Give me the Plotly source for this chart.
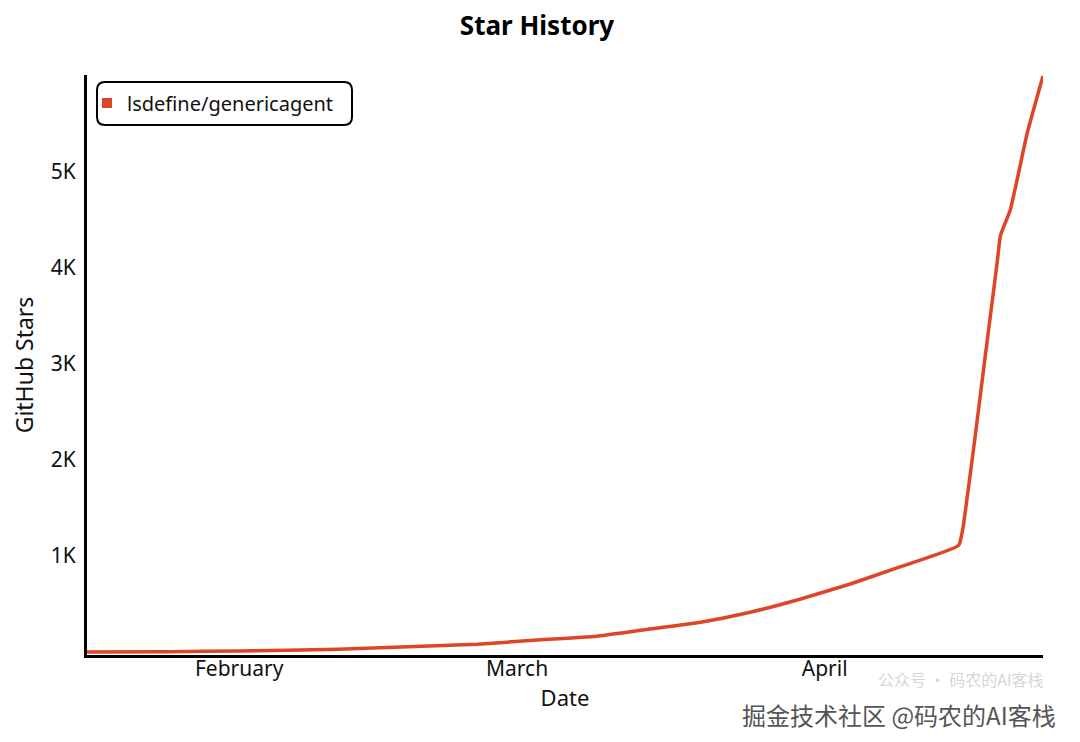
import plotly.graph_objects as go

# ---- data ----
series_name = "lsdefine/genericagent"
dates = [
    "2026-01-16 16:00", "2026-01-25 00:00", "2026-02-01 00:00", "2026-02-11 00:00",
    "2026-02-18 00:00", "2026-02-25 00:00", "2026-03-03 00:00", "2026-03-09 00:00",
    "2026-03-14 00:00", "2026-03-19 12:00", "2026-03-24 12:00", "2026-03-29 12:00",
    "2026-04-03 12:00", "2026-04-08 12:00", "2026-04-14 12:00", "2026-04-14 22:00",
    "2026-04-16 00:00", "2026-04-17 05:00", "2026-04-18 10:00", "2026-04-18 17:00",
    "2026-04-19 17:00", "2026-04-21 10:00", "2026-04-23 00:00",
]
stars = [
    0, 5, 12, 30,
    55, 83, 125, 166,
    235, 311, 415, 550,
    706, 883, 1110, 1280,
    2110, 3100, 4080, 4330,
    4600, 5400, 5990,
]
month_ticks = ["2026-02-01", "2026-03-01", "2026-04-01"]
month_labels = ["February", "March", "April"]
star_ticks = [1000, 2000, 3000, 4000, 5000]
star_labels = ["1K", "2K", "3K", "4K", "5K"]

line_color = "#dd4528"
font_family = "Noto Sans"

# the page body offsets the figure by 8px; target pixel positions are in window coords
OFF = 8
FIG_W, FIG_H = 1080, 742
PL, PR, PT, PB = 87, 1043, 75, 655  # plot area in window pixels
W, H = float(PR - PL), float(PB - PT)

def px_x(x):
    return (x - PL) / W

def px_y(y):
    return (PB - y) / H

fig = go.Figure()
fig.add_trace(go.Scatter(
    x=dates, y=stars, mode="lines",
    line=dict(color=line_color, width=3.5, shape="spline", smoothing=0.4),
    showlegend=False, hoverinfo="x+y",
))
# legend entry (square marker)
fig.add_trace(go.Scatter(
    x=[None], y=[None], mode="markers", name=series_name,
    marker=dict(symbol="square", size=10, color=line_color),
))

# rounded legend box
x0, x1 = px_x(97), px_x(352)
y1, y0 = px_y(82), px_y(125)
rx, ry = 8 / W, 8 / H
path = (f"M {x0+rx},{y1} L {x1-rx},{y1} Q {x1},{y1} {x1},{y1-ry} "
        f"L {x1},{y0+ry} Q {x1},{y0} {x1-rx},{y0} L {x0+rx},{y0} "
        f"Q {x0},{y0} {x0},{y0+ry} L {x0},{y1-ry} Q {x0},{y1} {x0+rx},{y1} Z")
fig.add_shape(type="path", path=path, xref="paper", yref="paper",
              line=dict(color="black", width=2), fillcolor="rgba(0,0,0,0)")

# watermark texts
fig.add_annotation(text="公众号 · 码农的AI客栈", xref="paper", yref="paper",
                   x=px_x(1046), y=px_y(679), xanchor="right", yanchor="middle",
                   showarrow=False,
                   font=dict(family="Noto Sans CJK SC", size=16, color="rgba(160,160,160,0.45)"))
fig.add_annotation(text="掘金技术社区 @码农的AI客栈", xref="paper", yref="paper",
                   x=px_x(1058), y=px_y(714), xanchor="right", yanchor="middle",
                   showarrow=False,
                   font=dict(family="Noto Sans CJK SC", size=24, color="#555555"))

fig.update_layout(
    width=FIG_W, height=FIG_H,
    margin=dict(l=PL - OFF, r=FIG_W - (PR - OFF), t=PT - OFF, b=FIG_H - (PB - OFF)),
    paper_bgcolor="white", plot_bgcolor="white",
    font=dict(family=font_family, size=21, color="#111111"),
    title=dict(text="<b>Star History</b>", x=px_x(537), xref="paper", xanchor="center",
               y=1 - (26 - OFF) / FIG_H, yref="container", yanchor="middle",
               font=dict(family=font_family, size=26, color="black")),
    showlegend=True,
    legend=dict(x=0.0, y=px_y(103), xanchor="left", yanchor="middle",
                bgcolor="rgba(0,0,0,0)", borderwidth=0,
                font=dict(family=font_family, size=20, color="#111111")),
    xaxis=dict(
        range=["2026-01-16 16:00", "2026-04-23 00:00"], automargin=False,
        tickmode="array", tickvals=month_ticks, ticktext=month_labels,
        showgrid=False, zeroline=False, showline=True, linecolor="black", linewidth=3,
        ticks="", ticklabelstandoff=-7, tickfont=dict(size=21),
        title=dict(text="Date", standoff=4, font=dict(size=22)),
    ),
    yaxis=dict(
        range=[-30, 6000], automargin=False,
        tickmode="array", tickvals=star_ticks, ticktext=star_labels,
        showgrid=False, zeroline=False, showline=True, linecolor="black", linewidth=3,
        ticks="", ticklabelstandoff=4, tickfont=dict(size=21),
        title=dict(text="GitHub Stars", standoff=30, font=dict(size=23)),
    ),
)

fig.write_html("out.html")
